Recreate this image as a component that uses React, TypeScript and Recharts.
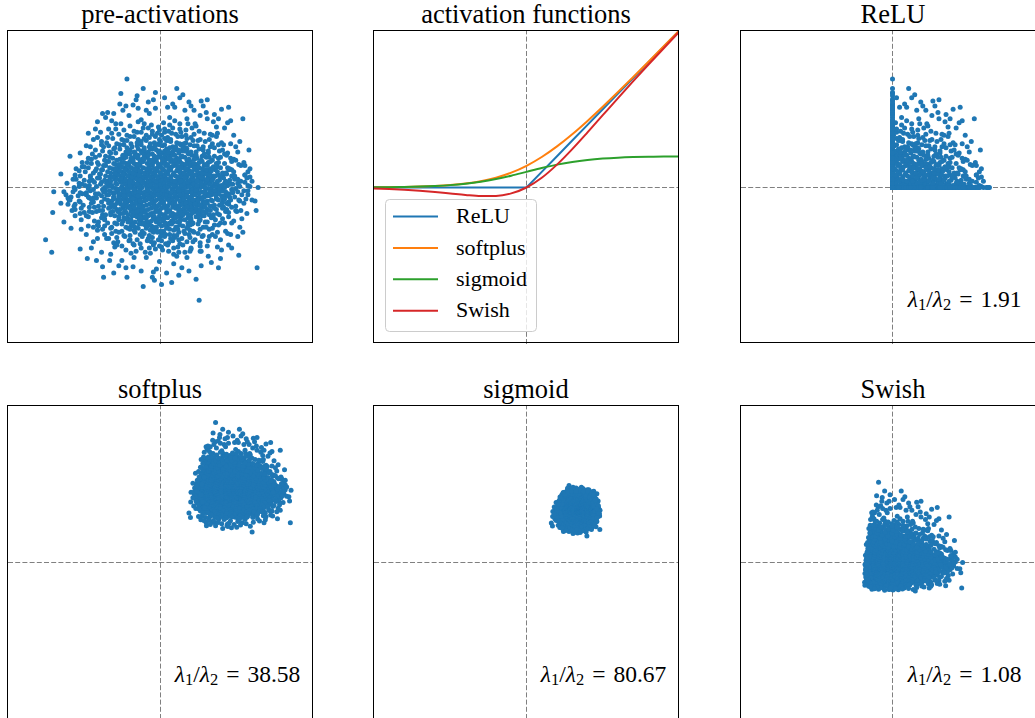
import React from 'react';
import {
  ScatterChart,
  Scatter,
  LineChart,
  Line,
  XAxis,
  YAxis,
  ReferenceLine,
  Legend,
} from 'recharts';

const BLUE = '#1f77b4';
const SERIF = '"Liberation Serif", "Times New Roman", serif';

// 2-d pre-activation samples, in hundredths. Dense part is stored as horizontal
// bands (x values, y values), the sparse outer ring as plain x,y pairs.
const CORE_BANDS: [string, string][] = [
  ['-80 -66 -55 -49 -44 -38 -35 -31 -28 -25 -23 -20 -18 -14 -13 -9 -7 -5 -3 -1 0 2 4 6 8 11 13 15 17 20 22 25 27 30 33 36 39 43 47 51 56 60 66 74 88',
   '1 -2 0 2 -1 1 -2 0 2 -1 1 -2 0 2 -1 0 -2 1 -1 2 -2 0 2 -1 1 -2 0 2 -1 1 -2 0 2 -1 1 -2 0 2 -1 1 -2 0 2 -1 1'],
  ['-77 -58 -50 -44 -39 -34 -31 -27 -25 -21 -19 -16 -13 -11 -9 -6 -4 -2 0 3 4 7 9 12 13 16 18 21 23 26 29 32 34 38 41 45 49 53 57 63 71 83 -70 66',
   '3 5 2 4 5 3 2 4 3 5 2 4 5 2 3 4 2 5 3 4 5 2 4 3 2 5 4 3 5 2 4 3 5 2 3 4 5 3 2 4 3 5 2 4'],
  ['-86 -64 -54 -47 -42 -37 -33 -30 -26 -23 -21 -18 -15 -12 -10 -8 -5 -3 -1 1 3 6 8 10 13 15 17 20 22 25 28 30 33 36 40 44 47 52 56 61 67 76 -73 59',
   '-4 -6 -3 -5 -4 -3 -6 -5 -3 -4 -6 -5 -4 -3 -5 -6 -4 -3 -5 -6 -3 -4 -5 -6 -3 -5 -4 -6 -3 -5 -4 -3 -6 -5 -4 -3 -6 -4 -5 -3 -6 -4 -5 -3'],
  ['-75 -60 -52 -45 -40 -36 -32 -28 -24 -22 -19 -17 -14 -12 -9 -7 -4 -2 0 2 5 7 9 11 14 17 19 22 25 27 30 33 37 40 44 48 52 58 64 73 -67 85',
   '7 9 6 8 7 9 6 8 9 7 6 8 9 6 7 8 6 9 7 8 9 6 8 7 6 9 8 7 9 6 8 7 9 6 7 8 9 7 6 8 7 9'],
  ['-81 -63 -53 -46 -41 -38 -34 -29 -27 -24 -20 -17 -15 -13 -11 -8 -6 -3 -1 2 4 6 9 12 14 16 19 21 24 27 31 34 37 42 45 50 55 60 68 80 -70 63',
   '-8 -10 -7 -9 -8 -7 -10 -9 -7 -8 -10 -9 -8 -7 -9 -10 -8 -7 -9 -10 -7 -8 -9 -10 -7 -9 -8 -10 -7 -9 -8 -7 -10 -9 -8 -7 -10 -8 -9 -7 -10 -8'],
  ['-79 -59 -50 -44 -38 -35 -30 -27 -23 -20 -18 -15 -12 -10 -7 -5 -3 0 2 4 7 10 12 15 18 20 23 26 29 32 36 39 43 47 52 57 62 70 88',
   '11 13 10 12 11 13 10 12 13 11 10 12 13 10 11 12 10 13 11 12 13 10 12 11 10 13 12 11 13 10 12 11 13 10 11 12 13 11 10'],
  ['-90 -66 -55 -48 -42 -37 -33 -29 -25 -22 -19 -16 -14 -11 -8 -6 -4 -1 1 3 6 8 11 14 16 19 22 25 28 31 35 38 42 46 50 55 61 69 78',
   '-12 -14 -11 -13 -12 -11 -14 -13 -11 -12 -14 -13 -12 -11 -13 -14 -12 -11 -13 -14 -11 -12 -13 -14 -11 -13 -12 -14 -11 -13 -12 -11 -14 -13 -12 -11 -14 -12 -13'],
  ['-74 -57 -49 -42 -37 -33 -29 -25 -22 -19 -16 -13 -10 -8 -5 -3 0 3 5 8 10 13 16 19 22 25 28 31 35 39 43 48 54 61 72 -64',
   '15 17 14 16 15 17 14 16 17 15 14 16 17 14 15 16 14 17 15 16 17 14 16 15 14 17 16 15 17 14 16 15 17 14 15 16'],
  ['-84 -61 -51 -45 -39 -34 -30 -26 -23 -20 -17 -14 -11 -9 -6 -3 -1 2 4 7 9 12 15 18 21 24 27 30 33 37 41 46 51 58 67 82',
   '-16 -18 -15 -17 -16 -15 -18 -17 -15 -16 -18 -17 -16 -15 -17 -18 -16 -15 -17 -18 -15 -16 -17 -18 -15 -17 -16 -18 -15 -17 -16 -15 -18 -17 -16 -15'],
  ['-71 -56 -47 -41 -35 -31 -27 -23 -20 -17 -14 -11 -8 -6 -3 0 2 5 8 11 14 17 20 23 27 30 34 38 43 49 56 66 79',
   '19 21 18 20 19 21 18 20 21 19 18 20 21 18 19 20 18 21 19 20 21 18 20 19 18 21 20 19 21 18 20 19 21'],
  ['-78 -60 -49 -43 -37 -32 -28 -24 -21 -18 -15 -12 -9 -7 -4 -1 1 4 6 9 12 15 18 21 25 28 32 36 41 46 53 62 74',
   '-20 -22 -19 -21 -20 -19 -22 -21 -19 -20 -22 -21 -20 -19 -21 -22 -20 -19 -21 -22 -19 -20 -21 -22 -19 -21 -20 -22 -19 -21 -20 -19 -22'],
  ['-68 -53 -44 -38 -33 -28 -24 -20 -17 -13 -10 -7 -4 -2 1 4 7 10 13 16 19 23 27 31 36 41 47 55 70',
   '23 25 22 24 23 25 22 24 25 23 22 24 25 22 23 24 22 25 23 24 25 22 24 23 22 25 24 23 25'],
  ['-75 -57 -47 -40 -34 -29 -25 -21 -18 -15 -12 -9 -6 -3 0 3 6 9 12 15 18 22 26 30 34 39 45 52 64',
   '-24 -26 -23 -25 -24 -23 -26 -25 -23 -24 -26 -25 -24 -23 -25 -26 -24 -23 -25 -26 -23 -24 -25 -26 -23 -25 -24 -26 -23'],
  ['-68 -50 -43 -36 -29 -26 -20 -18 -13 -11 -6 -4 0 3 6 9 11 16 18 24 26 33 36 45 51 69',
   '27 29 26 28 28 29 26 27 29 26 27 28 29 26 27 29 26 28 27 29 26 27 28 29 26 28'],
  ['-71 -55 -45 -36 -32 -25 -23 -17 -14 -12 -7 -6 -1 2 5 7 12 13 19 21 27 30 37 41 52 61',
   '-28 -30 -27 -29 -30 -27 -28 -29 -30 -27 -29 -28 -27 -30 -28 -29 -27 -30 -28 -27 -29 -30 -28 -27 -29 -30'],
  ['-60 -49 -37 -33 -25 -22 -16 -14 -8 -6 -1 3 4 10 12 18 21 28 31 41 47 63',
   '31 33 30 32 33 31 30 33 32 30 31 33 30 32 31 33 30 32 31 30 33 32'],
  ['-65 -52 -41 -32 -28 -21 -19 -13 -11 -5 -4 2 3 9 11 17 20 27 30 39 44 59',
   '-32 -34 -31 -33 -34 -31 -32 -33 -34 -31 -33 -32 -31 -34 -32 -33 -31 -34 -32 -31 -33 -34'],
  ['-57 -46 -34 -30 -22 -19 -12 -10 -4 -2 4 6 12 15 22 26 35 42 58',
   '35 37 34 36 37 35 34 37 36 34 35 37 34 36 35 37 34 36 35'],
  ['-62 -48 -38 -29 -25 -18 -15 -9 -7 -1 1 7 9 16 19 27 31 42 53',
   '-36 -38 -35 -37 -38 -35 -36 -37 -38 -35 -37 -36 -35 -38 -36 -37 -35 -38 -36'],
  ['-56 -40 -33 -23 -19 -11 -8 -1 2 9 12 20 25 36 49',
   '39 41 38 40 41 39 38 41 40 38 39 41 38 40 39'],
  ['-57 -44 -32 -26 -18 -14 -7 -4 3 6 13 17 26 32 48',
   '-40 -42 -39 -41 -42 -39 -40 -41 -42 -39 -41 -40 -39 -42 -40'],
  ['-53 -36 -29 -19 -14 -6 -2 6 10 19 25 37 51',
   '43 45 42 44 45 43 42 45 44 42 43 45 42'],
  ['-48 -36 -25 -20 -11 -7 1 5 13 18 28 37 56',
   '-44 -46 -43 -45 -46 -43 -44 -45 -46 -43 -45 -44 -43'],
  ['-47 -30 -22 -11 -5 4 10 21 30 48', '47 49 46 48 49 47 46 49 48 46'],
  ['-43 -30 -18 -12 -2 4 14 21 34 48', '-48 -50 -47 -49 -50 -47 -48 -49 -50 -47'],
  ['-41 -23 -14 -3 4 15 25 43', '51 53 50 52 53 51 50 52'],
  ['-42 -27 -13 -6 5 12 26 39', '-52 -54 -51 -53 -54 -51 -52 -53'],
  ['-36 -17 -8 4 12 25 38', '55 57 54 56 57 55 54'],
  ['-38 -19 -7 1 13 22 39', '-56 -58 -55 -57 -58 -55 -56'],
  ['-30 -16 -2 9 19 35', '59 61 58 60 61 59'],
  ['-34 -15 -5 8 18 30', '-60 -62 -59 -61 -62 -59'],
];

// second pass over the shoulder of the cloud, where the dots thin out
const SHOULDER_BANDS: [string, string][] = [
  ['-85 -71 -63 -57 -52 -47 -42 -39 -33 -29 -26 -21 19 23 28 32 35 41 44 50 54 58 63 70 78 96',
   '0 -1 1 -2 1 0 -2 -1 1 0 -2 1 -1 0 1 -2 -1 1 0 -2 1 -1 0 -2 1 0'],
  ['-92 -74 -65 -59 -53 -48 -43 -37 -35 -30 -27 -23 21 24 27 33 36 40 46 48 55 60 65 69 76 86',
   '4 2 5 3 4 2 3 5 4 2 5 3 2 4 5 3 2 4 5 3 4 2 5 3 4 2'],
  ['-79 -69 -61 -56 -50 -45 -40 -36 -32 -28 -24 -21 18 23 26 31 35 38 43 49 53 57 64 71 82 -95',
   '-5 -3 -6 -4 -3 -5 -6 -4 -3 -6 -5 -4 -3 -6 -4 -5 -3 -6 -5 -4 -3 -6 -4 -5 -3 -4'],
  ['-83 -70 -62 -55 -49 -43 -39 -34 -30 -26 -23 -20 20 24 29 32 36 42 46 51 56 62 68 76 90',
   '8 6 9 7 6 8 9 7 6 9 8 7 6 9 7 8 6 9 8 7 6 9 7 8 6'],
  ['-88 -73 -66 -58 -51 -46 -41 -36 -31 -28 -25 -22 19 22 26 30 34 39 43 48 54 61 66 73 86',
   '-9 -7 -10 -8 -7 -9 -10 -8 -7 -10 -9 -8 -7 -10 -8 -9 -7 -10 -9 -8 -7 -10 -8 -9 -7'],
  ['-84 -69 -60 -54 -47 -41 -37 -32 -28 -25 -21 20 24 27 31 34 40 45 49 54 59 65 73 83',
   '12 10 13 11 10 12 13 11 10 13 12 11 10 13 11 12 10 13 12 11 10 13 11 12'],
  ['-80 -68 -58 -52 -46 -40 -35 -31 -27 -24 -20 21 23 29 32 37 41 44 51 57 63 67 77 93',
   '-13 -11 -14 -12 -11 -13 -14 -12 -11 -14 -13 -12 -11 -14 -12 -13 -11 -14 -13 -12 -11 -14 -12 -13'],
  ['-80 -66 -58 -52 -45 -40 -35 -31 -27 -24 -20 19 23 27 30 36 41 45 50 56 64 70 86',
   '16 14 17 15 14 16 17 15 14 17 16 15 14 17 15 16 14 17 16 15 14 17 15'],
  ['-76 -68 -56 -48 -43 -37 -33 -28 -25 -21 19 22 25 29 34 39 44 49 53 60 65 74 -91',
   '-17 -15 -18 -16 -15 -17 -18 -16 -15 -18 -17 -16 -15 -18 -16 -17 -15 -18 -17 -16 -15 -18 -16'],
  ['-77 -63 -54 -50 -44 -38 -33 -29 -25 -22 18 21 25 29 33 37 41 46 52 59 68 83',
   '20 18 21 19 18 20 21 19 18 21 20 19 18 21 19 20 18 21 20 19 18 21'],
  ['-84 -65 -57 -51 -45 -40 -35 -30 -26 -22 19 23 26 30 35 39 44 49 55 61 70 79',
   '-21 -19 -22 -20 -19 -21 -22 -20 -19 -22 -21 -20 -19 -22 -20 -21 -19 -22 -21 -20 -19 -22'],
  ['-72 -61 -51 -46 -41 -36 -30 -26 -22 -18 17 21 25 29 33 38 44 49 57 63 77',
   '24 22 25 23 22 24 25 23 22 25 24 23 22 25 23 24 22 25 24 23 22'],
  ['-79 -63 -54 -49 -42 -37 -32 -27 -23 -19 18 20 24 28 32 37 42 48 56 67 -70',
   '-25 -23 -26 -24 -23 -25 -26 -24 -23 -26 -25 -24 -23 -26 -24 -25 -23 -26 -25 -24 -23'],
  ['-64 -55 -47 -40 -34 -27 -22 -16 -9 -3 2 8 14 20 28 34 40 48 57 72',
   '29 26 28 27 29 26 28 27 26 29 27 28 26 29 27 28 26 29 28 27'],
  ['-73 -58 -49 -41 -34 -28 -20 -15 -10 -3 4 10 15 22 29 35 43 50 58 67',
   '-27 -29 -26 -28 -30 -27 -29 -28 -26 -30 -28 -27 -29 -26 -30 -28 -27 -29 -26 -28'],
  ['-67 -54 -44 -37 -30 -24 -18 -12 -6 0 7 14 21 27 35 43 53 66',
   '32 30 33 31 32 30 33 31 30 33 32 31 30 33 31 32 30 33'],
  ['-61 -55 -45 -37 -29 -25 -16 -9 -2 5 13 19 24 32 38 46 54 70',
   '-33 -31 -34 -32 -31 -33 -34 -32 -31 -34 -33 -32 -31 -34 -32 -33 -31 -34'],
  ['-64 -50 -40 -32 -26 -16 -8 -1 8 13 18 24 30 38 47 61',
   '36 34 37 35 34 36 37 35 34 37 36 35 34 37 35 36'],
  ['-55 -43 -34 -27 -21 -13 -4 4 11 15 22 29 37 45 57 -71',
   '-37 -35 -38 -36 -35 -37 -38 -36 -35 -38 -37 -36 -35 -38 -36 -37'],
  ['-51 -45 -36 -28 -16 -5 4 15 22 29 33 42 53 62', '40 38 41 39 38 40 41 39 38 41 40 39 38 41'],
  ['-62 -49 -38 -30 -22 -10 0 9 16 23 29 39 51 64', '-41 -39 -42 -40 -39 -41 -42 -40 -39 -42 -41 -40 -39 -42'],
  ['-58 -43 -33 -23 -10 0 8 16 23 32 44 60', '44 42 45 43 42 44 45 43 42 45 44 43'],
  ['-55 -41 -30 -16 -3 9 16 24 33 42 51 66', '-45 -43 -46 -44 -43 -45 -46 -44 -43 -46 -45 -44'],
  ['-52 -38 -26 -16 -1 7 17 26 39 55', '48 46 49 47 46 48 49 47 46 49'],
  ['-51 -35 -23 -8 0 10 18 29 41 59', '-49 -47 -50 -48 -47 -49 -50 -48 -47 -50'],
  ['-48 -33 -19 -8 1 11 20 33 51', '52 50 53 51 50 52 53 51 50'],
  ['-46 -31 -20 -9 1 8 19 32 47', '-53 -51 -54 -52 -51 -53 -54 -52 -51'],
  ['-44 -26 -12 -1 8 19 31', '56 54 57 55 54 56 57'],
  ['-45 -26 -11 -1 7 17 30', '-57 -55 -58 -56 -55 -57 -58'],
  ['-39 -22 -9 3 14 27', '61 63 60 62 64 61'],
  ['-24 -10 2 13 24 40', '-61 -63 -60 -64 -62 -61'],
];

const OUTER_POINTS = `
-33,104 -17,95 -5,91 16,95 -39,90 -23,88 -24,84 40,83 19,86 22,89 28,82 -34,78 -14,74
60,75 67,77 81,66 69,64 -57,71 -54,67 -89,30 -79,33 -98,13 87,36 76,34 83,12 -105,-4
-106,-24 -113,-50 -107,-62 -95,-33 -88,-39 94,-22 95,-77 38,-108 -17,-95 1,-93 11,-91
-33,-86 -56,-86 -57,-76 -79,-59 -72,-68 -68,-58 35,-88 50,-72 59,-68 77,-65 81,-43 78,-38
84,-11 75,-23 21,-77 -7,-81 -8,-86 -6,-89 -41,-75 -34,-77 -79,-14 -85,-18 -93,-7 -91,-10
-78,-31 77,2 72,10 59,29 55,58 52,63 39,69 46,66 -59,53 -64,56 -62,48 -69,39 -71,28 -75,20
-80,4 -77,-6 -70,-19 -66,-38 -62,-49 -49,-64 -26,-67 13,-73 26,-67 39,-61 56,-57 69,-45
72,-32 85,-25 74,26 69,42 56,52 33,74 7,77 -7,84 -46,71 46,84
-51,56 -44,61 -31,69 -19,65 -11,71 9,67 26,66 34,61 49,51 57,41 65,31 67,17 71,-4 65,-21
63,-34 54,-47 46,-56 29,-61 16,-66 -1,-71 -14,-67 -29,-63 -43,-55 -53,-49 -61,-37 -67,-24
-71,-9 -69,11 -62,24 -58,41
-62,63 -52,72 -40,80 -27,79 -12,82 4,86 12,80 30,78 45,72 53,70 63,57 72,50 78,44 82,24
88,18 86,-3 90,-12 80,-30 76,-47 67,-55 60,-60 47,-66 40,-75 28,-80 18,-84 6,-82 -4,-78
-19,-80 -27,-76 -38,-70 -50,-70 -58,-62 -66,-52 -73,-45 -78,-40 -84,-27 -87,-22 -89,-12
-84,-2 -86,8 -83,18 -77,24 -73,40 -66,46 -71,52 -48,64 -37,74 -22,76 -5,76 14,77 24,74
42,78 57,66 66,62 74,39 79,6 70,-58 57,-77 -46,-82 -63,-70 -98,-15
`;

// sampled activation curves on [-5, 5]
const CURVE_X = [-5, -4.5, -4, -3.5, -3, -2.5, -2, -1.5, -1, -0.5, 0, 0.5, 1, 1.5, 2, 2.5, 3, 3.5, 4, 4.5, 5];
const RELU_Y = [0, 0, 0, 0, 0, 0, 0, 0, 0, 0, 0, 0.5, 1, 1.5, 2, 2.5, 3, 3.5, 4, 4.5, 5];
const SOFTPLUS_Y = [0.0067, 0.011, 0.0181, 0.0298, 0.0486, 0.0789, 0.1269, 0.2014, 0.3133, 0.4741, 0.6931,
  0.9741, 1.3133, 1.7014, 2.1269, 2.5789, 3.0486, 3.5298, 4.0181, 4.511, 5.0067];
const SIGMOID_Y = [0.0067, 0.011, 0.018, 0.0293, 0.0474, 0.0759, 0.1192, 0.1824, 0.2689, 0.3775, 0.5,
  0.6225, 0.7311, 0.8176, 0.8808, 0.9241, 0.9526, 0.9707, 0.982, 0.989, 0.9933];
const SWISH_Y = [-0.0335, -0.0497, -0.0719, -0.1025, -0.1423, -0.1897, -0.2384, -0.2736, -0.2689, -0.1888, 0,
  0.3112, 0.7311, 1.2264, 1.7616, 2.3103, 2.8577, 3.3975, 3.9281, 4.4505, 4.9665];

const SERIES_NAMES = ['ReLU', 'softplus', 'sigmoid', 'Swish'];
const PANEL_TITLES = ['pre-activations', 'activation functions', 'ReLU', 'softplus', 'sigmoid', 'Swish'];
const RATIO_LABELS = ['1.91', '38.58', '80.67', '1.08'];

type Pt = { x: number; y: number };

const toInts = (s: string) => s.trim().split(/\s+/).map(Number);

const fromBands = (bands: [string, string][]) =>
  bands.flatMap(([xs, ys]) => {
    const xv = toInts(xs);
    const yv = toInts(ys);
    return xv.slice(0, yv.length).map((x, i) => ({ x: x / 100, y: yv[i] / 100 }));
  });

const preActivations: Pt[] = [
  ...fromBands(CORE_BANDS),
  ...fromBands(SHOULDER_BANDS),
  ...OUTER_POINTS.trim().split(/\s+/).map((p) => {
    const [x, y] = p.split(',').map(Number);
    return { x: x / 100, y: y / 100 };
  }),
];

const relu = (v: number) => Math.max(0, v);
const softplus = (v: number) => Math.log1p(Math.exp(v));
const sigmoid = (v: number) => 1 / (1 + Math.exp(-v));
const swish = (v: number) => v * sigmoid(v);

const mapPts = (f: (v: number) => number) => preActivations.map((p) => ({ x: f(p.x), y: f(p.y) }));

const curveRows = CURVE_X.map((x, i) => ({
  x,
  relu: RELU_Y[i],
  softplus: SOFTPLUS_Y[i],
  sigmoid: SIGMOID_Y[i],
  swish: SWISH_Y[i],
}));

// panel geometry
const COLS = [
  { left: 8, width: 305, frame: 7.5 },
  { left: 374, width: 305, frame: 373.5 },
  { left: 741, width: 303, frame: 740.5 },
];
const ROWS = [
  { top: 31, height: 313, frame: 30.5, frameH: 312, title: 23.3, ratio: 306.7 },
  { top: 406, height: 313, frame: 405.5, frameH: 313, title: 398.3, ratio: 681.7 },
];
const FRAME_W = 305;

const dash = { stroke: '#808080', strokeDasharray: '5 2.2', strokeWidth: 1 };

const Dot = (props: any) => <circle cx={props.cx} cy={props.cy} r={2.5} fill={BLUE} />;

const ScatterPanel = ({ col, row, data }: { col: number; row: number; data: Pt[] }) => {
  const c = COLS[col];
  const r = ROWS[row];
  return (
    <div style={{ position: 'absolute', left: c.left, top: r.top }}>
      <ScatterChart width={c.width} height={r.height} margin={{ top: 0, right: 0, bottom: 0, left: 0 }}>
        <XAxis type="number" dataKey="x" domain={[-1.5, 1.5]} hide allowDataOverflow />
        <YAxis type="number" dataKey="y" domain={[-1.5, 1.5]} hide allowDataOverflow />
        <ReferenceLine x={0} {...dash} />
        <ReferenceLine y={0} {...dash} />
        <Scatter data={data} shape={Dot} isAnimationActive={false} />
      </ScatterChart>
    </div>
  );
};

const FnLegend = ({ payload }: any) => {
  const items = [...(payload || [])].sort(
    (a: any, b: any) => SERIES_NAMES.indexOf(a.value) - SERIES_NAMES.indexOf(b.value),
  );
  return (
    <svg width={152} height={133} style={{ display: 'block' }}>
      <rect x={0.5} y={0.5} width={151} height={132} rx={4} fill="rgba(255,255,255,0.8)" stroke="#cccccc" />
      {items.map((p: any, i: number) => {
        const y = 17.5 + i * 31.4;
        return (
          <g key={p.value}>
            <line x1={8} x2={53} y1={y} y2={y} stroke={p.color} strokeWidth={2} />
            <text x={71} y={y + 6.6} fontSize={22} fontFamily={SERIF} fill="#000">
              {p.value}
            </text>
          </g>
        );
      })}
    </svg>
  );
};

const ActivationPanel = () => {
  const c = COLS[1];
  const r = ROWS[0];
  return (
    <div style={{ position: 'absolute', left: c.left, top: r.top }}>
      <LineChart width={c.width} height={r.height} data={curveRows} margin={{ top: 0, right: 0, bottom: 0, left: 0 }}>
        <XAxis type="number" dataKey="x" domain={[-5, 5]} hide allowDataOverflow />
        <YAxis type="number" domain={[-5, 5]} hide allowDataOverflow />
        <ReferenceLine x={0} {...dash} />
        <ReferenceLine y={0} {...dash} />
        <Line type="linear" dataKey="relu" name={SERIES_NAMES[0]} stroke="#1f77b4" strokeWidth={2} dot={false} activeDot={false} isAnimationActive={false} />
        <Line type="monotone" dataKey="softplus" name={SERIES_NAMES[1]} stroke="#ff7f0e" strokeWidth={2} dot={false} activeDot={false} isAnimationActive={false} />
        <Line type="monotone" dataKey="sigmoid" name={SERIES_NAMES[2]} stroke="#2ca02c" strokeWidth={2} dot={false} activeDot={false} isAnimationActive={false} />
        <Line type="monotone" dataKey="swish" name={SERIES_NAMES[3]} stroke="#d62728" strokeWidth={2} dot={false} activeDot={false} isAnimationActive={false} />
        <Legend
          layout="vertical"
          align="center"
          verticalAlign="middle"
          width={152}
          height={133}
          content={<FnLegend />}
          wrapperStyle={{ left: 11, top: 168, width: 152, height: 133 }}
        />
      </LineChart>
    </div>
  );
};

const RatioLabel = ({ x, y, value }: { x: number; y: number; value: string }) => (
  <text x={x} y={y} fontSize={23.5} fontFamily={SERIF} fill="#000">
    <tspan fontStyle="italic">λ</tspan>
    <tspan fontSize={16.5} dy={3.5}>1</tspan>
    <tspan dy={-3.5}>/</tspan>
    <tspan fontStyle="italic">λ</tspan>
    <tspan fontSize={16.5} dy={3.5}>2</tspan>
    <tspan dy={-3.5} dx={8}>=</tspan>
    <tspan dx={8}>{value}</tspan>
  </text>
);

const Overlay = () => (
  <svg width={1035} height={718} style={{ position: 'absolute', left: 0, top: 0, pointerEvents: 'none' }}>
    {PANEL_TITLES.map((t, i) => {
      const c = COLS[i % 3];
      const r = ROWS[Math.floor(i / 3)];
      return (
        <g key={t}>
          <rect x={c.frame} y={r.frame} width={FRAME_W} height={r.frameH} fill="none" stroke="#000" strokeWidth={1} />
          <text x={c.frame + FRAME_W / 2} y={r.title} textAnchor="middle" fontSize={26.5} fontFamily={SERIF} fill="#000">
            {t}
          </text>
        </g>
      );
    })}
    {RATIO_LABELS.map((v, i) => {
      const idx = i + 2;
      const c = COLS[idx % 3];
      const r = ROWS[Math.floor(idx / 3)];
      return <RatioLabel key={v} x={c.frame + 167.3} y={r.ratio} value={v} />;
    })}
  </svg>
);

export default function App() {
  return (
    <div
      style={{
        position: 'fixed',
        left: 0,
        top: 0,
        width: 1035,
        height: 718,
        overflow: 'hidden',
        background: '#fff',
      }}
    >
      <ScatterPanel col={0} row={0} data={preActivations} />
      <ActivationPanel />
      <ScatterPanel col={2} row={0} data={mapPts(relu)} />
      <ScatterPanel col={0} row={1} data={mapPts(softplus)} />
      <ScatterPanel col={1} row={1} data={mapPts(sigmoid)} />
      <ScatterPanel col={2} row={1} data={mapPts(swish)} />
      <Overlay />
    </div>
  );
}
